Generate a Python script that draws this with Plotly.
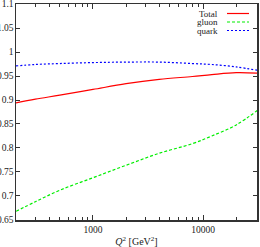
import plotly.graph_objects as go

Q2 = [200, 300, 500, 1000, 2000, 4000, 8000, 12000, 20000, 31000]
total = [0.894, 0.902, 0.910, 0.922, 0.934, 0.943, 0.949, 0.953, 0.957, 0.956]
gluon = [0.668, 0.688, 0.712, 0.738, 0.764, 0.789, 0.809, 0.825, 0.848, 0.878]
quark = [0.971, 0.974, 0.976, 0.978, 0.979, 0.979, 0.976, 0.974, 0.969, 0.962]

series_names = ["Total", "gluon", "quark"]
series_colors = ["#ff0000", "#00ee00", "#0000ff"]
series_dash = ["solid", "3px,2px", "2px,2px"]
series_vals = [total, gluon, quark]

y_ticks = [0.65, 0.7, 0.75, 0.8, 0.85, 0.9, 0.95, 1.0, 1.05, 1.1]
y_labels = ["0.65", "0.7", "0.75", "0.8", "0.85", "0.9", "0.95", "1", "1.05", "1.1"]
x_ticks = [1000, 10000]
x_labels = ["1000", "10000"]
x_minor = [300, 400, 500, 600, 700, 800, 900, 2000, 3000, 4000, 5000, 6000, 7000, 8000, 9000, 20000]

FONT = "Liberation Serif"

fig = go.Figure()
for name, col, dash, vals in zip(series_names, series_colors, series_dash, series_vals):
    fig.add_trace(go.Scatter(x=Q2, y=vals, mode="lines", name=name,
                             line=dict(color=col, width=1.2, dash=dash, shape="spline"),
                             showlegend=False, hoverinfo="skip"))

# custom legend: text right, line sample to the right
leg_y = [13.5, 22, 30.5]
for i, (name, col, dash) in enumerate(zip(series_names, series_colors, series_dash)):
    yp = 1 - (leg_y[i] - 4) / 216
    fig.add_annotation(xref="paper", yref="paper", x=(219 - 16) / 241, y=yp,
                       text=name, showarrow=False, xanchor="right", yanchor="middle",
                       font=dict(family=FONT, size=9, color="#222"), borderpad=0)
    fig.add_shape(type="line", xref="paper", yref="paper",
                  x0=(227 - 16) / 241, x1=(249 - 16) / 241, y0=yp, y1=yp,
                  line=dict(color=col, width=1.2, dash=dash))

axis_common = dict(showline=True, linecolor="#333", linewidth=1.5, mirror="ticks",
                   ticks="inside", tickcolor="#333", showgrid=False, zeroline=False,
                   ticklabeloverflow="allow",
                   tickfont=dict(family=FONT, size=9.5, color="#222"))

fig.update_xaxes(type="log", range=[2.301, 4.49], tickvals=x_ticks, ticktext=x_labels,
                 ticklen=5, tickwidth=1,
                 minor=dict(tickvals=x_minor, ticks="inside", ticklen=3, tickcolor="#333", tickwidth=1),
                 title=dict(text="<i>Q</i><sup>2</sup> [GeV<sup>2</sup>]",
                            font=dict(family=FONT, size=10, color="#222"), standoff=6),
                 **axis_common)
fig.update_yaxes(range=[0.6499, 1.1001], tickvals=y_ticks, ticktext=y_labels, ticklen=4, tickwidth=1,
                 ticklabelstandoff=-1, **axis_common)

fig.update_layout(width=260, height=247, margin=dict(l=16, r=3, t=4, b=27, autoexpand=False),
                  plot_bgcolor="white", paper_bgcolor="white")
fig.update_xaxes(automargin=False)
fig.update_yaxes(automargin=False)

fig.write_html("out.html", config={"displayModeBar": False, "staticPlot": True})

# remove default body margin so the figure sits at the window's top-left corner
with open("out.html", "r", encoding="utf-8") as f:
    html = f.read()
html = html.replace("<body>", '<body style="margin:0;padding:0;overflow:hidden">', 1)
with open("out.html", "w", encoding="utf-8") as f:
    f.write(html)
